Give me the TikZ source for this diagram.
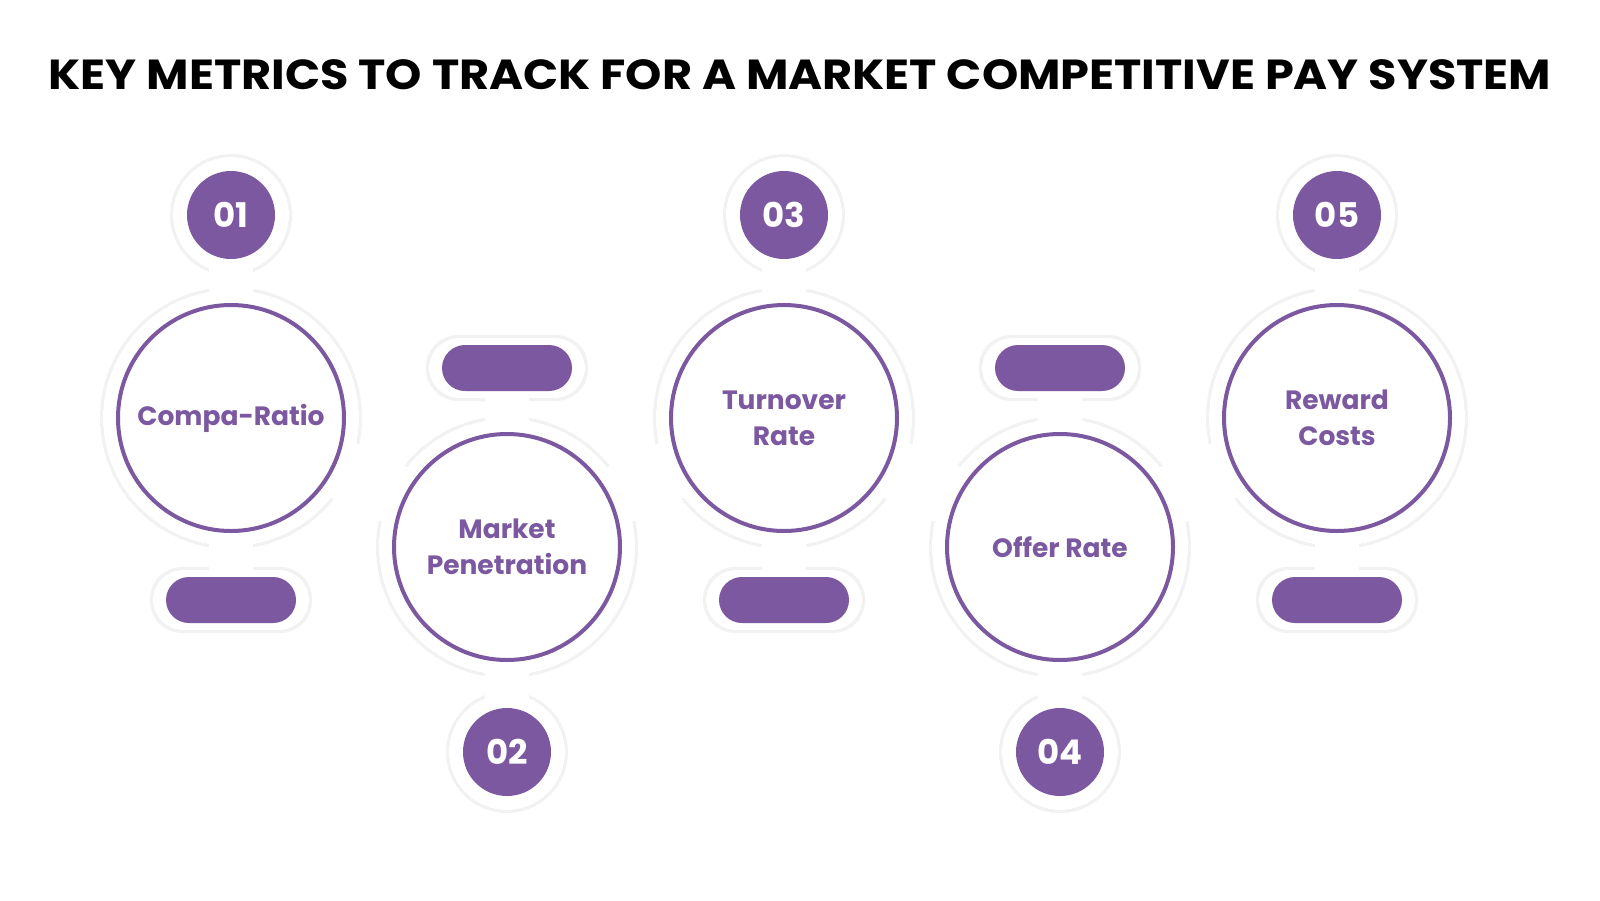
\documentclass[tikz,border=0pt]{standalone}
\usepackage{fontspec}
\setmainfont{Poppins}
\usetikzlibrary{calc}
\definecolor{pur}{HTML}{7B58A0}
\begin{document}
\begin{tikzpicture}[x=1pt,y=-1pt,
  ring/.style={circle,draw=pur,line width=4pt,fill=white,minimum size=226pt,inner sep=0pt,text=pur,font=\fontsize{26.5}{36}\selectfont\bfseries,align=center},
  numc/.style={circle,fill=pur,minimum size=88pt,inner sep=0pt,text=white,font=\fontsize{34}{34}\selectfont\bfseries},
  pill/.style={rounded corners=23pt,fill=pur,minimum width=130pt,minimum height=46pt,inner sep=0pt},
  halo/.pic={
   \foreach \i in {1,...,5}{
    \fill (c\i) circle (128); \fill (n\i) circle (58);
    \fill[rounded corners=30pt] ($(p\i)+(-78,-30)$) rectangle ($(p\i)+(78,30)$);
    \draw[line width=44pt] (c\i) -- (n\i); \draw[line width=44pt] (c\i) -- (p\i);
   }
   \draw[line width=60pt] (c1)--(c2)--(c3)--(c4)--(c5);
  }]
\useasboundingbox (0,0) rectangle (1600,900);
\fill[white] (0,0) rectangle (1600,900);
\node[font=\fontsize{42}{44}\selectfont\bfseries,xscale=1.1] (title) at (800,75) {KEY METRICS TO TRACK FOR A MARKET COMPETITIVE PAY SYSTEM};
\foreach \i/\x/\yc/\yn/\yp in {1/231/418/215/600,2/507/547/752/368,3/784/418/215/600,4/1060/547/752/368,5/1337/418/215/600}{
  \coordinate (c\i) at (\x,\yc);
  \coordinate (n\i) at (\x,\yn);
  \coordinate (p\i) at (\x,\yp);
}
\begin{scope}[shift={(7,9)},black,opacity=0.05]
 \foreach \i in {1,...,5}{
    \fill (c\i) circle (131); \fill (n\i) circle (61);
    \fill[rounded corners=32pt] ($(p\i)+(-81,-33)$) rectangle ($(p\i)+(81,33)$);
 }
\end{scope}
\begin{scope}[shift={(5,7)},black,opacity=0.08]
 \foreach \i in {1,...,5}{
    \fill (c\i) circle (128); \fill (n\i) circle (58);
    \fill[rounded corners=30pt] ($(p\i)+(-78,-30)$) rectangle ($(p\i)+(78,30)$);
 }
\end{scope}
\begin{scope}[white]
 \foreach \i in {1,...,5}{
  \fill (c\i) circle (128); \fill (n\i) circle (58);
  \fill[rounded corners=30pt] ($(p\i)+(-78,-30)$) rectangle ($(p\i)+(78,30)$);
  \draw[line width=44pt] (c\i) -- (n\i); \draw[line width=44pt] (c\i) -- (p\i);
 }
 \draw[line width=60pt] (c1)--(c2)--(c3)--(c4)--(c5);
\end{scope}
\node[ring] (r1) at (c1) {Compa-Ratio};
\node[ring] (r2) at (c2) {Market\\Penetration};
\node[ring] (r3) at (c3) {Turnover\\Rate};
\node[ring] (r4) at (c4) {Offer Rate};
\node[ring] (r5) at (c5) {Reward\\Costs};
\foreach \i in {1,...,5}{
  \node[numc] (m\i) at (n\i) {0\i};
  \node[pill] (q\i) at (p\i) {};
}
\end{tikzpicture}
\end{document}
